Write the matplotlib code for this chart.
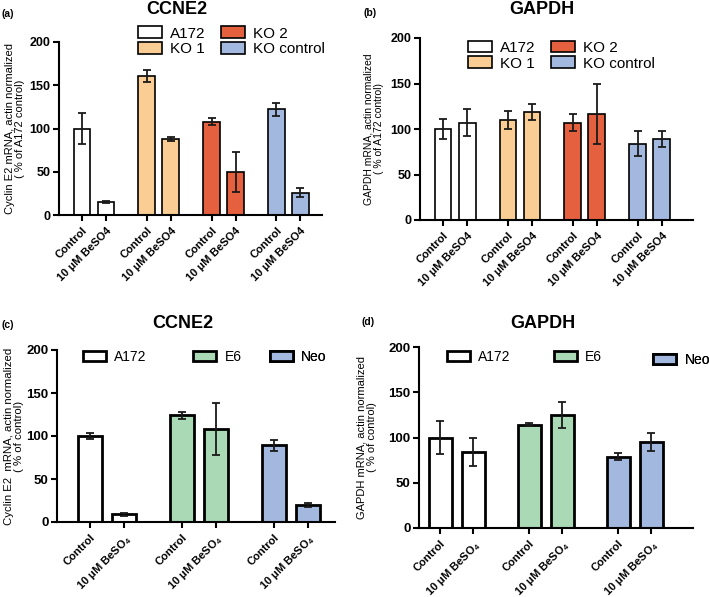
import matplotlib
matplotlib.use("Agg")
import matplotlib.pyplot as plt
from matplotlib.patches import Patch
import numpy as np

plt.rcParams['font.family'] = ['Liberation Sans', 'DejaVu Sans']
plt.rcParams['mathtext.fontset'] = 'custom'
plt.rcParams['mathtext.rm'] = 'Liberation Sans'
plt.rcParams['mathtext.bf'] = 'Liberation Sans:bold'

# panel a / b data (A172, KO 1, KO 2, KO control) x (Control, BeSO4)
groups_ab = ["A172", "KO 1", "KO 2", "KO control"]
colors_ab = ["#ffffff", "#f9cd94", "#e5603f", "#a3b8de"]
ccne2_ab = [[100, 15], [161, 88], [108, 50], [122, 26]]
ccne2_ab_err = [[18, 1], [7, 2], [4.5, 23], [7, 5]]
gapdh_ab = [[100, 107], [110, 119], [107, 116], [84, 89]]
gapdh_ab_err = [[11, 15], [10, 9], [9, 33], [14, 9]]

# panel c / d data (A172, E6, Neo)
groups_cd = ["A172", "E6", "Neo"]
colors_cd = ["#ffffff", "#a9d9b5", "#a3b8de"]
ccne2_cd = [[100, 9], [124, 108], [89, 20]]
ccne2_cd_err = [[4, 2], [4, 30], [6.5, 2]]
gapdh_cd = [[100, 84], [114, 125], [79, 95]]
gapdh_cd_err = [[18, 15], [1.5, 14], [3.5, 10]]

xlab_ab = ["Control", "10 \u03bcM BeSO4"]
xlab_cd = ["Control", "10 \u03bcM BeSO$\\mathbf{_4}$"]

W, H = 709, 597
fig = plt.figure(figsize=(W / 100, H / 100), dpi=100)


def px_rect(l, t, r, b):
    # pixel box -> figure fraction
    return [l / W, 1 - b / H, (r - l) / W, (b - t) / H]


def panel(rect, vals, errs, colors, xlabs, ylabel, ylab_x, ylab_fs, xlim, lw, ytick_fs):
    ax = fig.add_axes(rect)
    pos = []
    lab = []
    for i, (v, e) in enumerate(zip(vals, errs)):
        x = np.array([0, 1]) + 2.7 * i
        ax.bar(x, v, width=0.7, color=colors[i], edgecolor="black", linewidth=lw, zorder=2)
        ax.errorbar(x, v, yerr=e, fmt="none", ecolor="#1a1a1a", elinewidth=1.3,
                    capsize=3, capthick=1.3, zorder=3)
        pos += list(x)
        lab += xlabs
    ax.set_xticks(pos)
    ax.set_xticklabels(lab, rotation=45, ha="right", rotation_mode="anchor",
                       fontsize=8, fontweight="bold")
    ax.set_xlim(*xlim)
    ax.set_ylim(0, 200)
    ax.set_yticks([0, 50, 100, 150, 200])
    ax.tick_params(axis="y", labelsize=ytick_fs, width=1.5, length=4, pad=2)
    ax.tick_params(axis="x", width=1.5, length=4)
    for t in ax.get_yticklabels():
        t.set_fontweight("bold")
    for s in ["top", "right"]:
        ax.spines[s].set_visible(False)
    for s in ["left", "bottom"]:
        ax.spines[s].set_linewidth(1.5)
    ax.set_ylabel(ylabel, fontsize=ylab_fs, linespacing=1.05)
    ax.yaxis.set_label_coords(ylab_x, 0.5)
    return ax


def legend_grid(ax, groups, colors, lw, anchor, fs, colsp):
    handles = [Patch(facecolor=c, edgecolor="black", linewidth=lw) for c in colors]
    ax.legend(handles, groups, frameon=False, fontsize=fs, handlelength=1.6,
              handleheight=0.8, handletextpad=0.5, borderaxespad=0, borderpad=0,
              ncol=2, loc="upper left", bbox_to_anchor=anchor, columnspacing=colsp,
              labelspacing=0.1)


def legend_single(ax, groups, colors, lw, anchors, fs):
    for g, c, a in zip(groups, colors, anchors):
        h = Patch(facecolor=c, edgecolor="black", linewidth=lw)
        leg = ax.legend([h], [g], frameon=False, fontsize=fs, handlelength=1.65,
                        handleheight=0.7, handletextpad=0.6, borderaxespad=0,
                        borderpad=0, loc="center left", bbox_to_anchor=a)
        ax.add_artist(leg)


ax_a = panel(px_rect(59, 42, 322, 215), ccne2_ab, ccne2_ab_err, colors_ab, xlab_ab,
             "Cyclin E2 mRNA, actin normalized\n( % of A172 control)", -0.129, 8,
             (-0.96, 10.0), 1.2, 9)
legend_grid(ax_a, groups_ab, colors_ab, 1.2, (0.30, 1.09), 11, 1.0)

ax_b = panel(px_rect(420, 38, 693, 220), gapdh_ab, gapdh_ab_err, colors_ab, xlab_ab,
             "GAPDH mRNA, actin normalized\n( % of A172 control)", -0.132, 7.5,
             (-0.96, 10.4), 1.2, 9)
legend_grid(ax_b, groups_ab, colors_ab, 1.2, (0.175, 0.985), 11, 1.0)

ax_c = panel(px_rect(57, 350, 335, 522), ccne2_cd, ccne2_cd_err, colors_cd, xlab_cd,
             "Cyclin E2  mRNA, actin normalized\n( % of control)", -0.118, 8.2,
             (-0.97, 7.2), 2.0, 9.5)
legend_single(ax_c, groups_cd, colors_cd, 2.0,
              [(0.094, 0.96), (0.49, 0.96), (0.766, 0.96)], 10)

ax_d = panel(px_rect(419, 347, 693, 528), gapdh_cd, gapdh_cd_err, colors_cd, xlab_cd,
             "GAPDH mRNA, actin normalized\n( % of control)", -0.153, 8,
             (-0.64, 7.67), 2.0, 9.5)
legend_single(ax_d, groups_cd, colors_cd, 2.0,
              [(0.102, 0.945), (0.493, 0.945), (0.855, 0.928)], 10)

# titles and panel tags
fig.text(177 / W, 1 - 9 / H, "CCNE2", fontsize=13, fontweight="bold", ha="center", va="center")
fig.text(542 / W, 1 - 10 / H, "GAPDH", fontsize=13, fontweight="bold", ha="center", va="center")
fig.text(183 / W, 1 - 324 / H, "CCNE2", fontsize=13, fontweight="bold", ha="center", va="center")
fig.text(543 / W, 1 - 324 / H, "GAPDH", fontsize=13, fontweight="bold", ha="center", va="center")

fig.text(2 / W, 1 - 14 / H, "(a)", fontsize=7.5, fontweight="bold", va="center")
fig.text(363 / W, 1 - 13 / H, "(b)", fontsize=7.5, fontweight="bold", va="center")
fig.text(2 / W, 1 - 325 / H, "(c)", fontsize=7.5, fontweight="bold", va="center")
fig.text(362 / W, 1 - 322 / H, "(d)", fontsize=7.5, fontweight="bold", va="center")

fig.savefig("out.png", dpi=100)
